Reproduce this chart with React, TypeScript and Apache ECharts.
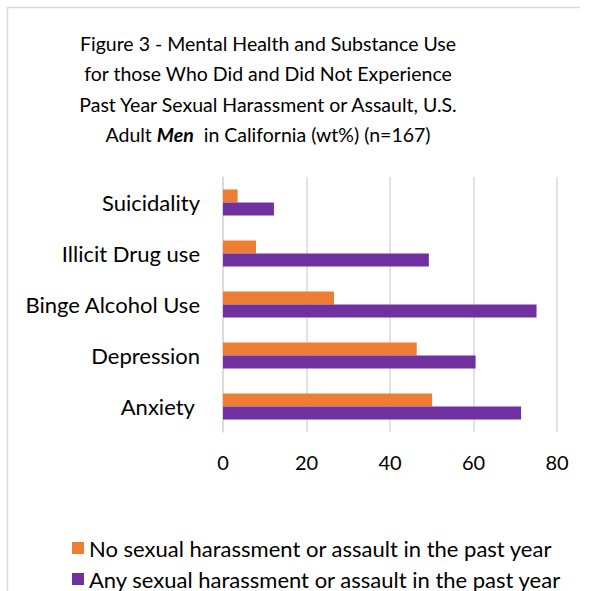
import React, { useEffect, useRef } from "react";
import * as echarts from "echarts";

const categories = ["Anxiety ", "Depression", "Binge Alcohol Use", "Illicit Drug use", "Suicidality"];
const noHarassment = [50.1, 46.4, 26.6, 7.9, 3.5];
const anyHarassment = [71.4, 60.5, 75.1, 49.3, 12.2];
const seriesNames = [
  "No sexual harassment or assault in the past year",
  "Any sexual harassment or assault in the past year",
];
const titleLines = [
  "Figure 3 - Mental Health and Substance Use",
  "for those Who Did and Did Not Experience",
  "Past Year Sexual Harassment or Assault, U.S.",
  "Adult {b|Men}  in California (wt%) (n=167)",
];

const FONT = "Lato, 'Open Sans', sans-serif";

export default function App() {
  const ref = useRef<HTMLDivElement>(null);
  useEffect(() => {
    if (!ref.current) return;
    const chart = echarts.init(ref.current, undefined, { renderer: "svg" });
    const legendBase = {
      orient: "horizontal",
      left: 70,
      itemWidth: 12,
      itemHeight: 12,
      icon: "rect",
      padding: 0,
      textStyle: { fontFamily: FONT, fontSize: 22, color: "#000000" },
    };
    chart.setOption({
      animation: false,
      backgroundColor: "#ffffff",
      textStyle: { fontFamily: FONT },
      title: {
        text: titleLines.join("\n"),
        left: 263,
        textAlign: "center",
        top: 23,
        textStyle: {
          fontFamily: FONT,
          fontSize: 19.5,
          fontWeight: "normal",
          color: "#000000",
          lineHeight: 30.5,
          rich: {
            b: {
              fontFamily: FONT,
              fontSize: 19.5,
              fontWeight: "bold",
              fontStyle: "italic",
              color: "#000000",
              lineHeight: 30.5,
            },
          },
        },
      },
      graphic: [
        {
          type: "polyline",
          shape: { points: [[7.5, 591], [7.5, 7.5], [580, 7.5]] },
          style: { stroke: "#d9d9d9", lineWidth: 1.5, fill: "none" },
          silent: true,
        },
      ],
      legend: [
        { ...legendBase, left: 72, top: 537, data: [seriesNames[0]] },
        { ...legendBase, left: 72, top: 568, data: [seriesNames[1]] },
      ],
      grid: { left: 223, right: 33, top: 177, bottom: 159, containLabel: false },
      xAxis: {
        type: "value",
        min: 0,
        max: 80,
        interval: 20,
        axisLine: { show: false },
        axisTick: { show: false },
        splitLine: { lineStyle: { color: "#d9d9d9", width: 1.5 } },
        axisLabel: { fontFamily: FONT, fontSize: 20, color: "#000000", margin: 20 },
      },
      yAxis: {
        type: "category",
        data: categories,
        axisLine: { show: true, lineStyle: { color: "#d9d9d9", width: 1.5 } },
        axisTick: { show: false },
        axisLabel: { fontFamily: FONT, fontSize: 22, color: "#000000", margin: 23 },
      },
      series: [
        {
          name: seriesNames[0],
          type: "bar",
          data: noHarassment,
          barWidth: 13,
          barGap: "0%",
          itemStyle: { color: "#ED7D31" },
        },
        {
          name: seriesNames[1],
          type: "bar",
          data: anyHarassment,
          barWidth: 13,
          barGap: "0%",
          itemStyle: { color: "#7030A0" },
        },
      ],
    });
    return () => chart.dispose();
  }, []);
  return (
    <div
      ref={ref}
      style={{ position: "fixed", left: 0, top: 0, width: 590, height: 591 }}
    />
  );
}
